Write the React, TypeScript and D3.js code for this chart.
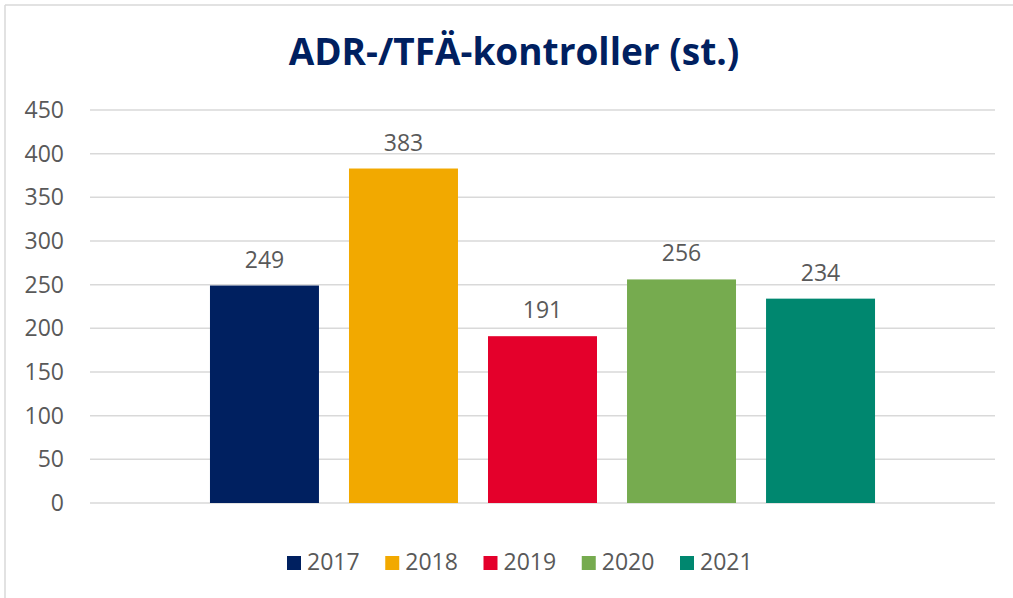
import React from "react";
import * as d3 from "d3";

const years = ["2017", "2018", "2019", "2020", "2021"];
const values = [249, 383, 191, 256, 234];
const colors = ["#002060", "#F2A900", "#E4002B", "#76AB4F", "#00876F"];
const yTicks = [0, 50, 100, 150, 200, 250, 300, 350, 400, 450];
const title = "ADR-/TFÄ-kontroller (st.)";

const W = 1013;
const H = 598;
const plotLeft = 90;
const plotRight = 995;
const plotTop = 110;
const plotBottom = 503;
const font = "'Open Sans', sans-serif";
const fs = 23;

export default function App() {
  const y = d3.scaleLinear().domain([0, 450]).range([plotBottom, plotTop]);
  const x = d3
    .scaleBand<string>()
    .domain(years)
    .range([plotLeft, plotRight])
    .paddingInner(0.216)
    .paddingOuter(0.863);

  const legendX = d3.scalePoint<string>().domain(years).range([287, 680]);

  return (
    <svg
      width={W}
      height={H}
      style={{ position: "absolute", left: 0, top: 0, background: "#fff" }}
    >
      <rect x={0} y={0} width={W} height={H} fill="#fff" />
      <line x1={5} y1={5} x2={W} y2={5} stroke="#d9d9d9" strokeWidth={1.5} />
      <line x1={5} y1={5} x2={5} y2={H} stroke="#d9d9d9" strokeWidth={1.5} />
      <text
        x={514}
        y={65}
        textAnchor="middle"
        fontFamily={font}
        fontWeight={700}
        fontSize={37}
        fill="#002060"
      >
        {title}
      </text>
      {yTicks.map((t) => (
        <g key={t}>
          <line
            x1={plotLeft}
            x2={plotRight}
            y1={y(t)}
            y2={y(t)}
            stroke="#d9d9d9"
            strokeWidth={1.5}
          />
          <text
            x={64}
            y={y(t)}
            dy="0.35em"
            textAnchor="end"
            fontFamily={font}
            fontSize={fs}
            fill="#595959"
          >
            {t}
          </text>
        </g>
      ))}
      {years.map((yr, i) => (
        <g key={yr}>
          <rect
            x={x(yr)}
            y={y(values[i])}
            width={x.bandwidth()}
            height={y(0) - y(values[i])}
            fill={colors[i]}
          />
          <text
            x={(x(yr) as number) + x.bandwidth() / 2}
            y={y(values[i]) - 18}
            textAnchor="middle"
            fontFamily={font}
            fontSize={fs}
            fill="#595959"
          >
            {values[i]}
          </text>
        </g>
      ))}
      {years.map((yr, i) => (
        <g key={"lg" + yr} transform={`translate(${legendX(yr)},0)`}>
          <rect x={0} y={556} width={14} height={14} fill={colors[i]} />
          <text
            x={20}
            y={570}
            fontFamily={font}
            fontSize={fs}
            fill="#595959"
          >
            {yr}
          </text>
        </g>
      ))}
    </svg>
  );
}
